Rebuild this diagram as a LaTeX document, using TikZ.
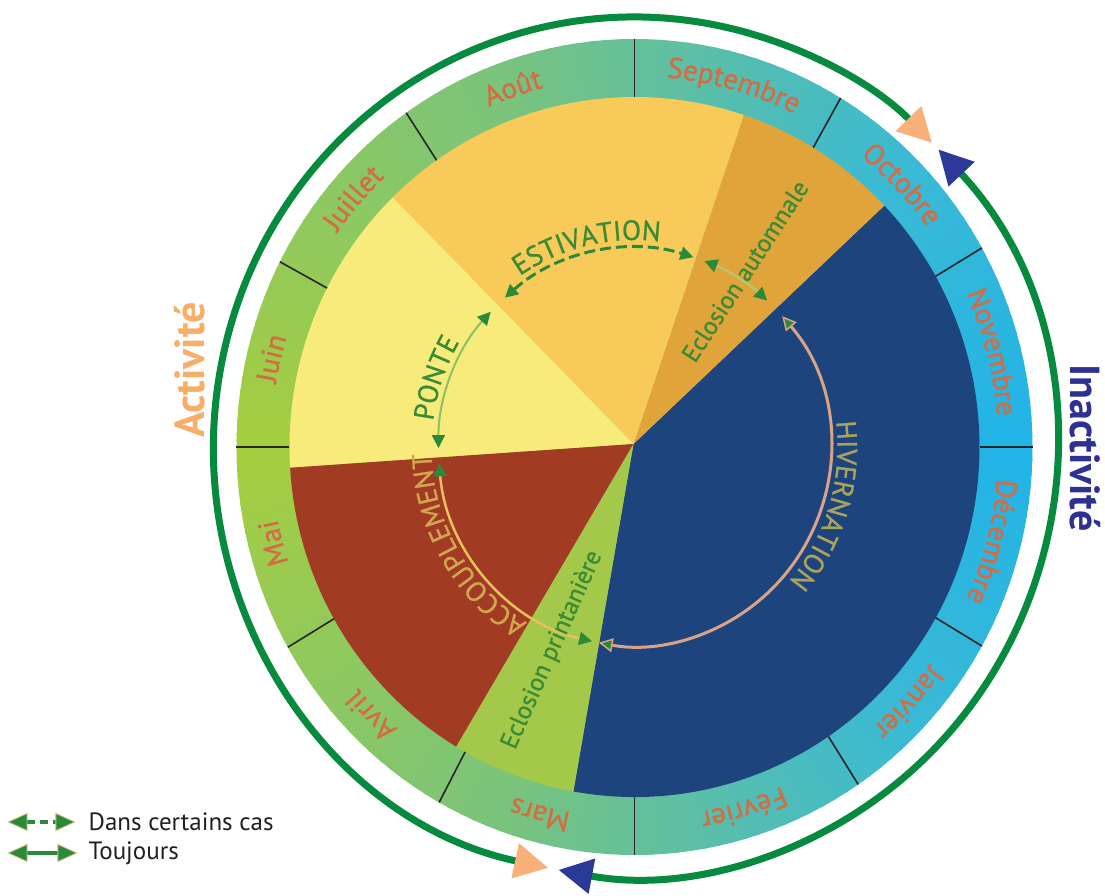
\documentclass[tikz,border=0pt]{standalone}
\usepackage{fontspec}
\setmainfont{PT Sans}
\newfontfamily\semib{PT Sans}[FakeBold=0.8]
\usetikzlibrary{arrows.meta,decorations.text}
\definecolor{monthc}{HTML}{D46C43}
\definecolor{hivc}{HTML}{1E447D}
\definecolor{autc}{HTML}{E1A43A}
\definecolor{estc}{HTML}{F8CA5A}
\definecolor{ponc}{HTML}{F7EB7B}
\definecolor{accc}{HTML}{A13B24}
\definecolor{princ}{HTML}{A3C84A}
\definecolor{ringg}{HTML}{058A3E}
\definecolor{agreen}{HTML}{2A8A3A}
\definecolor{peach}{HTML}{F9B07A}
\definecolor{navy}{HTML}{2B3A98}
\definecolor{actc}{HTML}{F9AE68}
\definecolor{inactc}{HTML}{2E3192}
\definecolor{tgreen}{HTML}{3B8A35}
\definecolor{ponl}{HTML}{8CC063}
\definecolor{autl}{HTML}{BDC26C}
\definecolor{accl}{HTML}{E5C25C}
\definecolor{hivl}{HTML}{D9A386}
\definecolor{acctext}{HTML}{D2A550}
\definecolor{hivtext}{HTML}{A8A45C}
\definecolor{legout}{HTML}{C9C07A}
\definecolor{legtext}{HTML}{231F20}
\newcommand\monthfont{\semib\fontsize{29}{34}\selectfont}
\newcommand\phasefont{\semib\fontsize{28}{33}\selectfont}
\newcommand\interpol[5]{ifthenelse(\d<45,#1+(#2-#1)*\d/45,ifthenelse(\d<75,#2+(#3-#2)*(\d-45)/30,ifthenelse(\d<110,#3+(#4-#3)*(\d-75)/35,#4+(#5-#4)*(\d-110)/70)))}
\newcommand\monthlab[3]{\path[decorate,decoration={text along path,text={|\monthfont|#3},text align=center,text color=monthc}] (#1:364 and 371) arc[start angle=#1,end angle=#2,x radius=364,y radius=371];}
\newcommand\phaselab[4]{\path[decorate,decoration={text along path,text={|\phasefont|#3},text align=center,text color=#4}] (#1:203 and 207) arc[start angle=#1,end angle=#2,x radius=203,y radius=207];}
\tikzset{
  inarrow/.style={line width=2.5pt,{Triangle[length=13pt,width=13pt,color=agreen]}-{Triangle[length=13pt,width=13pt,color=agreen]}},
  hivarrow/.style={line width=3pt,{Triangle[length=14pt,width=14pt,fill=agreen,color=hivl,line width=1.5pt]}-{Triangle[length=14pt,width=14pt,fill=agreen,color=hivl,line width=1.5pt]}},
  bigact/.style={ringg,line width=7pt,{Triangle[length=34pt,width=34pt,color=peach]}-{Triangle[length=34pt,width=34pt,color=peach]}},
  biginact/.style={ringg,line width=7pt,{Triangle[length=34pt,width=34pt,color=navy]}-{Triangle[length=34pt,width=34pt,color=navy]}},
  legarrow/.style={agreen,line width=4.5pt,{Triangle[length=20pt,width=18pt,fill=agreen,color=legout,line width=0.8pt]}-{Triangle[length=20pt,width=18pt,fill=agreen,color=legout,line width=0.8pt]}},
  bigword/.style={font=\fontsize{42}{48}\selectfont\bfseries,inner sep=0pt},
  ecl/.style={font=\semib\fontsize{25}{30}\selectfont,text=tgreen,inner sep=0pt},
  legword/.style={font=\fontsize{25}{30}\selectfont,text=legtext,inner sep=0pt,anchor=west}
}
\begin{document}
\begin{tikzpicture}[x=1pt,y=1pt]
\useasboundingbox (-634.5,-449) rectangle (470.5,447);
\fill[white] (-634.5,-449) rectangle (470.5,447);
% ring with gradient
\foreach \a in {0,2,...,358}{
  \pgfmathsetmacro\d{min(\a+1,359-\a)}
  \pgfmathtruncatemacro\R{\interpol{34}{59}{86}{122}{166}}
  \pgfmathtruncatemacro\G{\interpol{180}{186}{190}{196}{206}}
  \pgfmathtruncatemacro\B{\interpol{232}{213}{175}{125}{64}}
  \definecolor{wc}{RGB}{\R,\G,\B}
  \fill[wc] (0,0) -- (\a:398 and 408) arc[start angle=\a,end angle=\a+2.4,x radius=398,y radius=408] -- cycle;
}
% pie
\coordinate (apex) at (-1,3);
\fill[hivc] (apex) -- (-100.2:345 and 350) arc[start angle=-100.2,end angle=43.6,x radius=345,y radius=350] -- cycle;
\fill[autc] (apex) -- (43.6:345 and 350) arc[start angle=43.6,end angle=71.5,x radius=345,y radius=350] -- cycle;
\fill[estc] (apex) -- (71.5:345 and 350) arc[start angle=71.5,end angle=134.5,x radius=345,y radius=350] -- cycle;
\fill[ponc] (apex) -- (134.5:345 and 350) arc[start angle=134.5,end angle=183.4,x radius=345,y radius=350] -- cycle;
\fill[accc] (apex) -- (183.4:345 and 350) arc[start angle=183.4,end angle=238.9,x radius=345,y radius=350] -- cycle;
\fill[princ] (apex) -- (238.9:345 and 350) arc[start angle=238.9,end angle=259.8,x radius=345,y radius=350] -- cycle;
% separators
\foreach \s in {0,29.2,58.8,90,125,153,180,209.4,240.6,270,304.2,330.8}
  \draw[line width=1.6pt,black!85] (\s:345 and 350) -- (\s:398 and 408);
% months
\monthlab{90}{58.8}{Septembre}
\monthlab{58.8}{29.2}{Octobre}
\monthlab{29.2}{0}{Novembre}
\monthlab{0}{-29.2}{Décembre}
\monthlab{-29.2}{-55.8}{Janvier}
\monthlab{-55.8}{-90}{Février}
\monthlab{-90}{-119.4}{Mars}
\monthlab{-119.4}{-150.6}{Avril}
\monthlab{-150.6}{-180}{Mai}
\monthlab{180}{153}{Juin}
\monthlab{153}{125}{Juillet}
\monthlab{128}{90}{Août}
% outer arcs
\draw[bigact] (258.2:421 and 430) arc[start angle=258.2,end angle=45,x radius=421,y radius=430];
\draw[biginact] (43.8:421 and 430) arc[start angle=43.8,end angle=-100.4,x radius=421,y radius=430];
% inner arrows
\draw[inarrow,agreen,line width=3pt,dash pattern=on 11pt off 5pt] (131.4:196 and 199) arc[start angle=131.4,end angle=72.5,x radius=196,y radius=199];
\draw[inarrow,ponl,line width=2pt] (137.2:196 and 199) arc[start angle=137.2,end angle=180.3,x radius=196,y radius=199];
\draw[inarrow,autl] (69.1:196 and 199) arc[start angle=69.1,end angle=47.4,x radius=196,y radius=199];
\draw[inarrow,accl] (184.7:196 and 199) arc[start angle=184.7,end angle=257.5,x radius=196,y radius=199];
\draw[hivarrow,hivl] (41.1:196 and 199) arc[start angle=41.1,end angle=-100.5,x radius=196,y radius=199];
% phase labels
\phaselab{143.5}{63.5}{ESTIVATION}{tgreen}
\phaselab{201}{121}{PONTE}{tgreen}
\phaselab{250}{170}{ACCOUPLEMENT}{acctext}
\phaselab{23.2}{-56.8}{HIVERNATION}{hivtext}
\node[ecl,rotate=57] (eaut) at (110.5,176) {Eclosion automnale};
\node[ecl,rotate=66] (epri) at (-82,-203) {Eclosion printanière};
% big words
\node[bigword,text=actc,rotate=90] (act) at (-444.5,77) {Activité};
\node[bigword,text=inactc,rotate=-90] (inact) at (450.5,-1) {Inactivité};
% legend
\coordinate (l1a) at (-627,-375);
\coordinate (l1b) at (-559,-375);
\coordinate (l2a) at (-627,-406);
\coordinate (l2b) at (-557,-406);
\draw[legarrow,dash pattern=on 8pt off 5pt] (l1a) -- (l1b);
\draw[legarrow] (l2a) -- (l2b);
\node[legword] (lg1) at (-546,-375) {Dans certains cas};
\node[legword] (lg2) at (-546,-406) {Toujours};
\end{tikzpicture}
\end{document}
